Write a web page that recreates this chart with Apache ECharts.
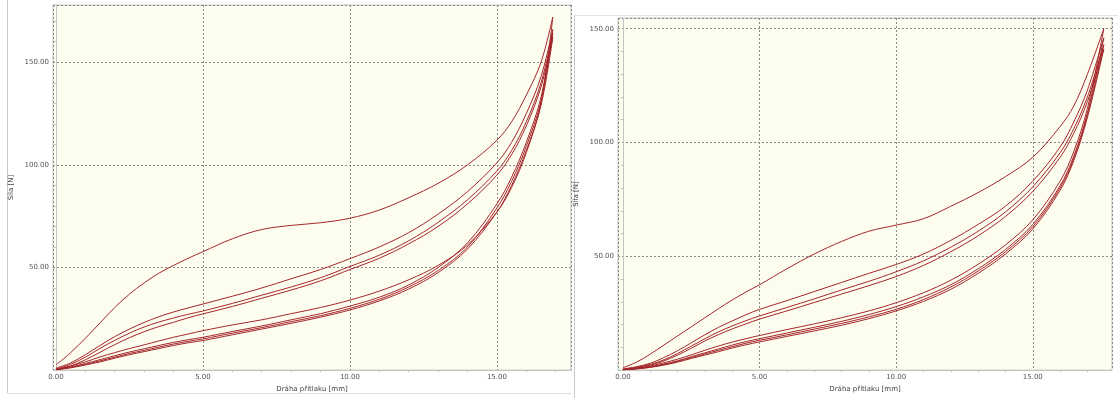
<!DOCTYPE html>
<html>
<head>
<meta charset="utf-8">
<script src="https://cdn.jsdelivr.net/npm/echarts@6/dist/echarts.min.js"></script>
<style>
html,body{margin:0;padding:0;background:#fff;}
#c{width:1118px;height:398px;}
</style>
</head>
<body>
<div id="c"></div>
<script>
// ---- Text ----
const xTitle = 'Dráha přítlaku [mm]';
const yTitle = 'Síla [N]';

// ---- Data (left chart) ----
const leftX = [0,0.5,1,1.5,2,2.5,3,3.5,4,4.5,5,6,7,8,9,10,11,12,13,14,15,15.5,16,16.5,16.9];
const leftLoad1 = [2.5,8.5,15.5,23,30.5,37,42.5,47.2,51,54.5,57.7,64,68.5,70.5,71.8,74,78,84,91,100,112,121,134,150,172];
const leftLoad2 = [1,3.5,7.5,12,16.3,20,23.2,26,28.3,30.3,32.2,36,40,44.5,49,54.3,60,67,76,87,101,111,125,143,166];
const leftLoad3 = [0.5,2.8,6.3,10.6,14.5,18,21,23.4,25.4,27.2,28.8,32.5,36.5,40.5,45,50.5,56,63,72,83,97,107,121,140,164];
const leftLoad4 = [0.3,2,5,8.7,12.4,15.8,18.7,21.2,23.3,25.5,27.4,31,35,39,43.5,49,54.5,61.5,70,81,95,105,119,138,162];
const leftUnload1 = [0.5,2,4,6.4,8.5,10.5,12.3,14.2,16,17.6,19.2,22,24.5,27.5,30.5,34.1,38.5,44,51,61,77,89,106,130,172];
const leftUnload2 = [0.3,1.5,3.2,5.1,7,8.8,10.4,12,13.5,14.8,16,18.8,21.5,24.5,27.5,31.2,35.5,41.5,50,62,81,94,111,133,166];
const leftUnload3 = [0.2,1.3,2.8,4.5,6.3,8.1,9.6,11.2,12.7,14,15.2,18,20.7,23.6,26.5,30.1,34.5,40.5,48.5,60,79,92,109,131,164];
const leftUnload4 = [0.1,1.1,2.5,4,5.8,7.5,9,10.5,12,13.3,14.4,17.2,20,22.8,25.8,29.3,33.7,39.5,47.5,59,77,90,107,129,162];

// ---- Data (right chart) ----
const rightX = [0,0.5,1,1.5,2,2.5,3,3.5,4,4.5,5,6,7,8,9,10,11,12,13,14,15,16,16.5,17,17.6];
const rightLoad1 = [1,3.5,7,11,15,19,23,27,30.8,34.3,37.5,44.5,51,56.5,61,63.7,66.5,72,78,85,93.5,107,116,130,150];
const rightLoad2 = [0.5,1.5,3,5.5,8.5,12,15.5,18.8,21.6,24.3,26.7,30.5,34.5,38.5,42.5,46.4,51,57,64,72,83,98,109,123,146];
const rightLoad3 = [0.3,1.2,2.5,4.5,7.3,10.5,13.8,16.8,19.4,21.7,23.8,27.5,31.3,35.2,39,43.2,48,54,61,69.5,80.5,95.5,106,120,143];
const rightLoad4 = [0.2,1,2.2,4,6.6,9.6,12.8,15.6,18.1,20.3,22.4,26,29.7,33.4,37.1,41.1,46,52,59,67.5,78.5,93.5,104,118,141];
const rightUnload1 = [0.3,0.8,1.8,3.2,4.8,6.7,8.7,10.6,12.3,13.8,15.2,17.8,20.3,23,26,29.6,34,39.5,46.5,55,66,83,96,115,150];
const rightUnload2 = [0.2,0.7,1.5,2.7,4.1,5.9,7.6,9.3,11,12.5,13.8,16.3,18.8,21.4,24.4,27.9,32.2,37.5,44.5,53,64,81,94,113,146];
const rightUnload3 = [0.1,0.6,1.3,2.4,3.8,5.5,7.1,8.7,10.3,11.8,13.1,15.5,18,20.5,23.4,26.7,31,36.5,43.5,52,63,80,93,112,143];
const rightUnload4 = [0.1,0.5,1.2,2.2,3.5,5.1,6.6,8.1,9.7,11.1,12.4,14.8,17.2,19.7,22.6,26,30.2,35.5,42.5,51,62,79,92,111,141];

const leftCurves = [leftLoad1,leftLoad2,leftLoad3,leftLoad4,leftUnload1,leftUnload2,leftUnload3,leftUnload4];
const rightCurves = [rightLoad1,rightLoad2,rightLoad3,rightLoad4,rightUnload1,rightUnload2,rightUnload3,rightUnload4];

const zip = (xs, ys) => xs.map((x, i) => [x, ys[i]]);
const lineColor = '#a3262a';
const fmt = step => v => (Math.abs(v / step - Math.round(v / step)) < 1e-6) ? v.toFixed(2) : '';
const fmtY = step => v => (v > 0 && Math.abs(v / step - Math.round(v / step)) < 1e-6) ? v.toFixed(2) : '';

function xAxisCfg(gi, min, max) {
  return {
    type: 'value', gridIndex: gi, min: min, max: max, minInterval: 5, maxInterval: 5,
    name: xTitle, nameLocation: 'middle', nameGap: 15,
    nameTextStyle: {fontSize: 7, color: '#444', fontFamily: 'DejaVu Sans'},
    axisLine: {show: true, lineStyle: {color: '#c4c4c4'}},
    axisTick: {show: false},
    minorTick: {show: true, splitNumber: 5, length: 2, lineStyle: {color: '#bbb'}},
    axisLabel: {fontSize: 7, color: '#555', margin: 4, formatter: fmt(5), fontFamily: 'DejaVu Sans'},
    splitLine: {show: true, lineStyle: {color: '#8a8a8a', type: [2, 2], width: 1}}
  };
}
function yAxisCfg(gi, max) {
  return {
    type: 'value', gridIndex: gi, min: 0, max: max, minInterval: 50, maxInterval: 50,
    name: yTitle, nameLocation: 'middle', nameGap: 38,
    nameTextStyle: {fontSize: 7, color: '#444', fontFamily: 'DejaVu Sans'},
    axisLine: {show: true, lineStyle: {color: '#c4c4c4'}},
    axisTick: {show: false},
    minorTick: {show: true, splitNumber: 5, length: 2, lineStyle: {color: '#bbb'}},
    axisLabel: {fontSize: 7, color: '#555', margin: 4, formatter: fmtY(50), fontFamily: 'DejaVu Sans'},
    splitLine: {show: true, lineStyle: {color: '#8a8a8a', type: [2, 2], width: 1}}
  };
}

const series = [];
leftCurves.forEach(c => series.push({
  type: 'line', xAxisIndex: 0, yAxisIndex: 0, data: zip(leftX, c), showSymbol: false,
  smooth: 0.35, lineStyle: {color: lineColor, width: 1}, silent: true
}));
rightCurves.forEach(c => series.push({
  type: 'line', xAxisIndex: 1, yAxisIndex: 1, data: zip(rightX, c), showSymbol: false,
  smooth: 0.35, lineStyle: {color: lineColor, width: 1}, silent: true
}));

const chart = echarts.init(document.getElementById('c'), null, {renderer: 'canvas'});
chart.setOption({
  animation: false,
  backgroundColor: '#ffffff',
  graphic: [
    {type: 'line', shape: {x1: 7.5, y1: 0, x2: 7.5, y2: 393}, style: {stroke: '#c8c8c8', lineWidth: 1}, z: -1},
    {type: 'line', shape: {x1: 7.5, y1: 393.5, x2: 571, y2: 393.5}, style: {stroke: '#e0e0e0', lineWidth: 1}, z: -1},
    {type: 'line', shape: {x1: 574.5, y1: 15, x2: 574.5, y2: 398}, style: {stroke: '#c8c8c8', lineWidth: 1}, z: -1},
    {type: 'line', shape: {x1: 574.5, y1: 15.5, x2: 1118, y2: 15.5}, style: {stroke: '#e4e4e4', lineWidth: 1}, z: -1}
  ],
  grid: [
    {left: 53, top: 5, width: 518, height: 370, show: true, backgroundColor: '#fdfdef', borderColor: '#c4c4c4', borderWidth: 1},
    {left: 618, top: 18, width: 494, height: 359, show: true, backgroundColor: '#fdfdef', borderColor: '#c4c4c4', borderWidth: 1}
  ],
  xAxis: [xAxisCfg(0, -0.1, 17.52), xAxisCfg(1, -0.18, 17.9)],
  yAxis: [yAxisCfg(0, 177.9), yAxisCfg(1, 154.7)],
  series: series
});
</script>
</body>
</html>
